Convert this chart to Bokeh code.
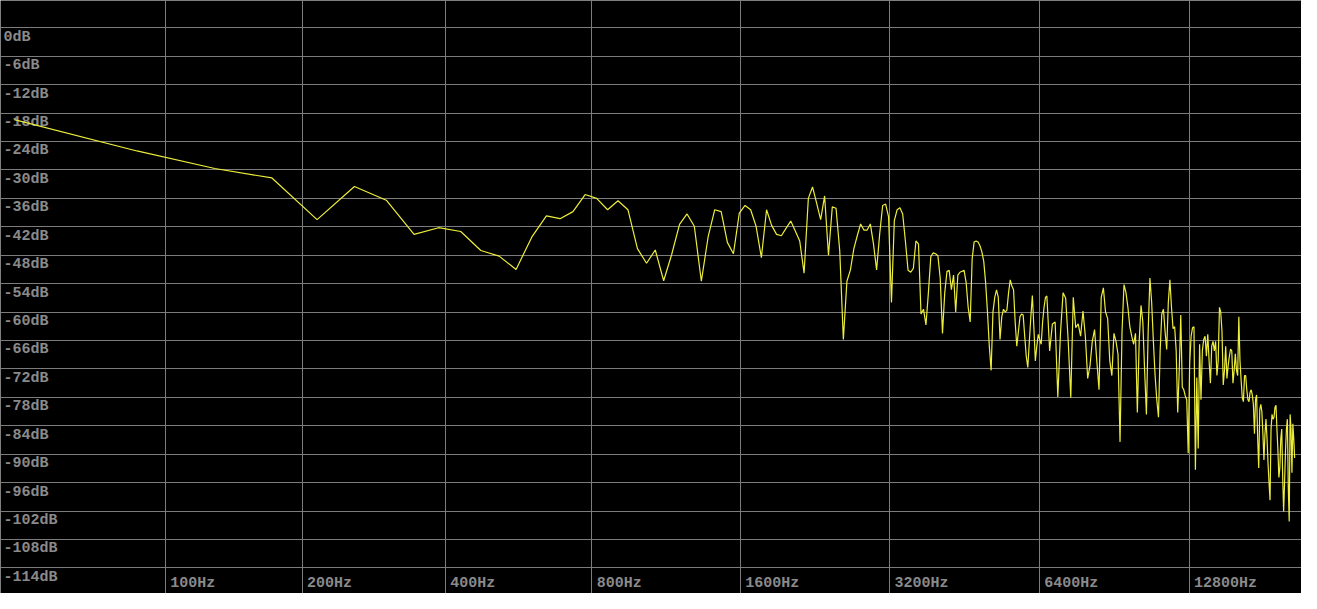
import numpy as np
from bokeh.plotting import figure
from bokeh.models import Range1d, Grid, FixedTicker
from bokeh.core.properties import value
from bokeh.embed import file_html
from bokeh.resources import INLINE

# ---------------- data ----------------
BIN_HZ = 44100 / 1024          # FFT bin width

# level of FFT bins 1..153 (one value per bin), dB
low_db = [
    -19.4, -26.0, -29.7, -31.7, -40.5, -33.5, -36.4, -43.6, -42.2, -43.0,
    -47.0, -48.2, -51.0, -44.2, -39.7, -40.3, -38.8, -35.2, -36.0, -38.4,
    -36.5, -38.4, -46.6, -49.7, -46.9, -53.4, -47.8, -41.5, -39.3, -41.9,
    -53.5, -44.1, -38.4, -38.8, -45.3, -47.7, -39.1, -37.5, -38.4, -41.9,
    -48.5, -38.4, -41.7, -43.6, -43.9, -42.3, -40.8, -42.9, -45.0, -51.8,
    -36.0, -33.6, -37.0, -40.5, -35.5, -48.0, -37.8, -38.1, -47.0, -65.8,
    -53.5, -51.1, -46.6, -43.9, -41.4, -42.7, -42.7, -41.4, -45.6, -51.1,
    -43.6, -37.5, -37.2, -39.9, -58.0, -40.7, -38.4, -38.0, -39.3, -45.0,
    -51.2, -51.6, -50.8, -45.0, -45.6, -60.4, -59.4, -62.7, -55.9, -48.3,
    -47.5, -47.7, -48.1, -52.8, -64.5, -55.9, -51.4, -51.2, -55.3, -52.2,
    -60.0, -52.2, -51.6, -51.4, -51.2, -53.8, -59.0, -62.1, -48.7, -45.2,
    -45.0, -45.2, -46.0, -47.3, -49.3, -53.8, -60.0, -67.2, -72.3, -60.0,
    -56.9, -55.3, -56.9, -65.8, -61.0, -59.4, -60.0, -59.6, -55.9, -53.2,
    -54.5, -55.3, -62.1, -67.2, -64.1, -61.0, -60.4, -60.6, -65.1, -69.3,
    -71.7, -66.2, -61.0, -56.5, -63.1, -70.3, -67.2, -64.7, -65.8, -66.8,
    -62.1, -59.0, -56.9,
]

# level of every second FFT bin, 154, 156, ... 484, dB
high_db = [
    -56.6, -68.2, -62.5, -62.1, -77.9, -64.5, -55.9, -57.1, -66.2, -78.1,
    -56.9, -63.3, -62.5, -65.1, -59.8, -65.1, -74.0, -71.3, -66.2, -63.7,
    -70.3, -76.4, -56.9, -54.9, -60.0, -61.4, -70.3, -73.4, -64.5, -66.2,
    -68.9, -87.4, -64.1, -54.2, -55.9, -59.0, -63.1, -65.1, -66.8, -64.5,
    -81.2, -66.2, -58.6, -62.1, -72.3, -81.6, -64.1, -52.8, -58.0, -66.2,
    -73.4, -78.5, -82.2, -68.2, -60.4, -59.4, -64.1, -67.9, -58.0, -53.2,
    -59.0, -63.5, -63.1, -68.2, -81.2, -72.3, -60.6, -75.8, -76.4, -77.7,
    -78.5, -89.8, -70.9, -65.1, -63.3, -63.1, -93.3, -73.8, -88.8, -66.8,
    -78.5, -68.2, -65.8, -65.1, -69.3, -64.7, -70.3, -75.0, -67.2, -66.2,
    -68.2, -66.2, -73.4, -70.3, -59.0, -60.0, -64.1, -75.4, -72.3, -67.2,
    -74.0, -71.3, -69.3, -67.8, -68.2, -75.0, -72.3, -68.8, -72.3, -73.4,
    -61.0, -70.3, -74.4, -78.1, -78.9, -73.4, -73.4, -76.4, -78.5, -78.9,
    -76.9, -76.4, -77.5, -79.5, -85.7, -78.5, -77.5, -86.7, -92.9, -80.6,
    -79.5, -81.0, -85.7, -91.2, -85.7, -82.6, -86.7, -91.9, -96.0, -99.7,
    -84.7, -81.6, -82.6, -82.2, -80.1, -79.7, -84.7, -89.2, -94.9, -92.9,
    -86.7, -84.7, -94.9, -102.1, -96.0, -89.2, -84.7, -82.6, -97.0, -104.2,
    -81.6, -84.7, -93.9, -83.6, -86.7, -90.8,
]

db_ticks = [0, -6, -12, -18, -24, -30, -36, -42, -48, -54, -60, -66, -72,
            -78, -84, -90, -96, -102, -108, -114]
db_labels = ["0dB", "-6dB", "-12dB", "-18dB", "-24dB", "-30dB", "-36dB",
             "-42dB", "-48dB", "-54dB", "-60dB", "-66dB", "-72dB", "-78dB",
             "-84dB", "-90dB", "-96dB", "-102dB", "-108dB", "-114dB"]
hz_ticks = [100, 200, 400, 800, 1600, 3200, 6400, 12800]
hz_labels = ["100Hz", "200Hz", "400Hz", "800Hz", "1600Hz", "3200Hz",
             "6400Hz", "12800Hz"]

# ---------------- frequency axis warp (log of f + offset) ----------------
F_OFFSET = 13.5


def warp(f):
    return np.log(np.asarray(f, dtype=float) + F_OFFSET)


bins = np.concatenate([np.arange(1, len(low_db) + 1),
                       np.arange(154, 154 + 2 * len(high_db), 2)])
freq = bins * BIN_HZ
level = np.array(low_db + high_db, dtype=float)

# ---------------- layout ----------------
W, H = 1301, 593
# visible extent of the original view
x_start = float(warp(100)) - 166.7 / 219.3
x_end = float(warp(100)) + (1317 - 166.7) / 219.3
y_top = 28 / 4.866
y_bottom = -(609 - 28) / 4.866

p = figure(width=W, height=H, output_backend="svg", toolbar_location=None,
           x_range=Range1d(x_start, x_end), y_range=Range1d(y_bottom, y_top),
           x_axis_location=None, y_axis_location=None, min_border=0,
           background_fill_color="#000000", border_fill_color="#000000",
           outline_line_color=None)
p.xgrid.visible = False
p.ygrid.visible = False

GRID_COL = "#7c7c7c"
p.add_layout(Grid(dimension=0, ticker=FixedTicker(ticks=[float(v) for v in warp(hz_ticks)]),
                  grid_line_color=GRID_COL, grid_line_width=1))
p.add_layout(Grid(dimension=1, ticker=FixedTicker(ticks=db_ticks),
                  grid_line_color=GRID_COL, grid_line_width=1))

LABEL_COL = "#8a8a8a"
FONT = value("Liberation Mono")
p.text(x=[x_start] * len(db_ticks), y=db_ticks, text=db_labels,
       x_offset=3, y_offset=1, text_align="left", text_baseline="top",
       text_font=FONT, text_font_size="15px", text_font_style="bold",
       text_color=LABEL_COL)
p.text(x=warp(hz_ticks), y=[y_bottom] * len(hz_ticks), text=hz_labels,
       x_offset=5, y_offset=-2, text_align="left", text_baseline="bottom",
       text_font=FONT, text_font_size="15px", text_font_style="bold",
       text_color=LABEL_COL)

p.line(warp(freq), level, line_color="#eded3c", line_width=1.2)

open("out.html", "w").write(file_html(p, INLINE))
